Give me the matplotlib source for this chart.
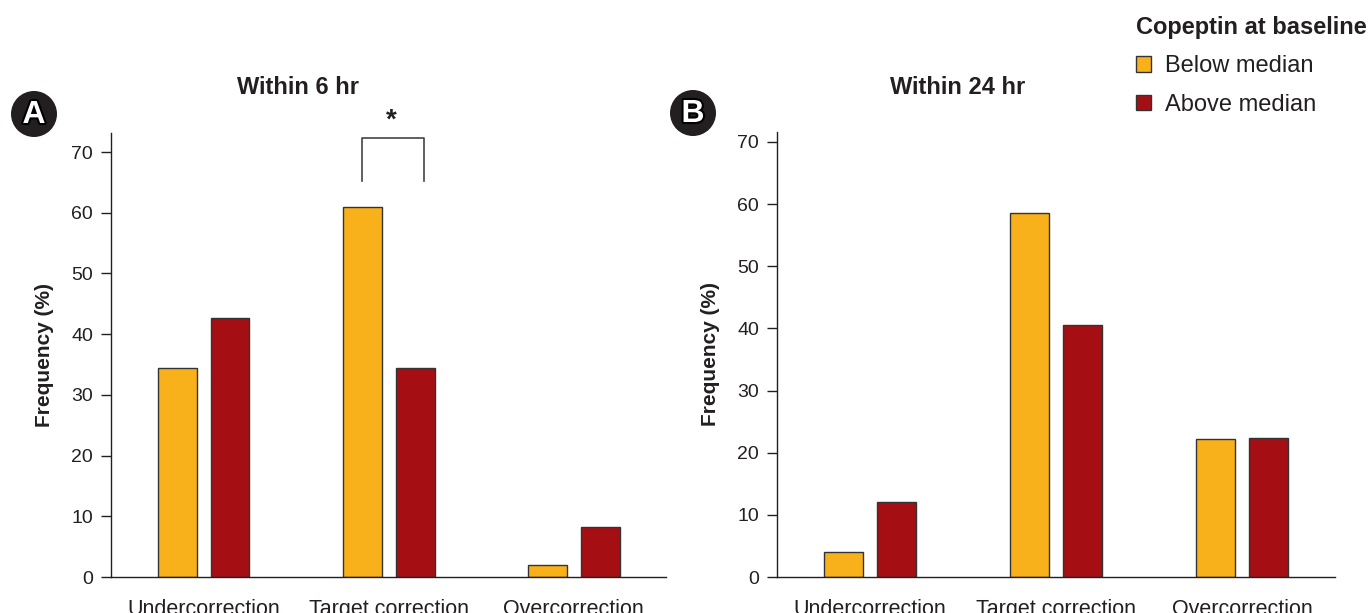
import matplotlib.pyplot as plt
import matplotlib.patheffects as pe
from matplotlib.patches import Ellipse
import numpy as np

plt.rcParams['font.family'] = ['Liberation Sans', 'DejaVu Sans']

categories = ['Undercorrection', 'Target correction', 'Overcorrection']
below_6hr = [34.4, 61.0, 1.9]
above_6hr = [42.6, 34.5, 8.2]
below_24hr = [4.0, 58.5, 22.2]
above_24hr = [12.1, 40.6, 22.4]
yticks = [0, 10, 20, 30, 40, 50, 60, 70]

YELLOW = '#F8B01B'
RED = '#A50F14'
EDGE = '#333333'
TXT = '#231F20'

W, H = 1371, 613
fig = plt.figure(figsize=(13.71, 6.13), dpi=100)
axA = fig.add_axes([0.081, 0.0587, 0.405, 0.724])
axB = fig.add_axes([0.5667, 0.0587, 0.407, 0.726])


def draw_panel(ax, below, above, ytop):
    x = np.arange(len(categories))
    w = 0.21
    ax.bar(x - 0.143, below, w, color=YELLOW, edgecolor=EDGE, linewidth=1, label='Below median')
    ax.bar(x + 0.143, above, w, color=RED, edgecolor=EDGE, linewidth=1, label='Above median')
    ax.set_xlim(-0.5, 2.5)
    ax.set_ylim(0, ytop)
    ax.set_yticks(yticks)
    ax.set_xticks(x)
    ax.set_xticklabels(categories, fontsize=15.5, color=TXT)
    ax.tick_params(axis='x', length=0, pad=16)
    ax.tick_params(axis='y', length=7, width=1, colors=TXT, labelsize=14, pad=6)
    for s in ['top', 'right']:
        ax.spines[s].set_visible(False)
    for s in ['left', 'bottom']:
        ax.spines[s].set_color(TXT)
        ax.spines[s].set_linewidth(1)
    ax.set_ylabel('Frequency (%)', fontsize=15, fontweight='bold', color=TXT, labelpad=12)


draw_panel(axA, below_6hr, above_6hr, 73.1)
draw_panel(axB, below_24hr, above_24hr, 71.6)

# panel titles (placed left of axis centre as in the original figure)
fig.text(298 / W, 1 - 88 / H, 'Within 6 hr', ha='center', va='center',
         fontsize=17, fontweight='bold', color=TXT)
fig.text(958 / W, 1 - 88 / H, 'Within 24 hr', ha='center', va='center',
         fontsize=17, fontweight='bold', color=TXT)

# significance bracket in panel A
axA.plot([1 - 0.143, 1 - 0.143, 1 + 0.19, 1 + 0.19], [65.2, 72.3, 72.3, 65.2],
         color='#444444', linewidth=1.2, clip_on=False)
axA.text(1 + 0.015, 73.0, '*', ha='center', va='bottom', fontsize=20,
         fontweight='bold', color=TXT, clip_on=False)

# panel letters
for lx, ly, letter in [(34, 114, 'A'), (693, 113, 'B')]:
    fx, fy = lx / W, 1 - ly / H
    fig.patches.append(Ellipse((fx, fy), 46 / W, 46 / H, transform=fig.transFigure,
                               facecolor='#231F20', edgecolor='none', zorder=5))
    t = fig.text(fx, fy - 1 / H, letter, ha='center', va='center', fontsize=23,
                 fontweight='bold', color='white', zorder=6)
    t.set_path_effects([pe.withStroke(linewidth=3, foreground='black')])

# legend
handles, labels = axB.get_legend_handles_labels()
leg = fig.legend(handles, labels, loc='upper left', bbox_to_anchor=(1124 / W, 1 - 4 / H),
                 title='Copeptin at baseline', frameon=False, fontsize=17,
                 title_fontproperties={'weight': 'bold', 'size': 17},
                 handlelength=0.65, handleheight=0.65, handletextpad=0.6,
                 labelspacing=0.7, borderpad=0, alignment='left')
for txt in leg.get_texts():
    txt.set_color(TXT)
leg.get_title().set_color(TXT)

fig.savefig('out.png', dpi=100)
